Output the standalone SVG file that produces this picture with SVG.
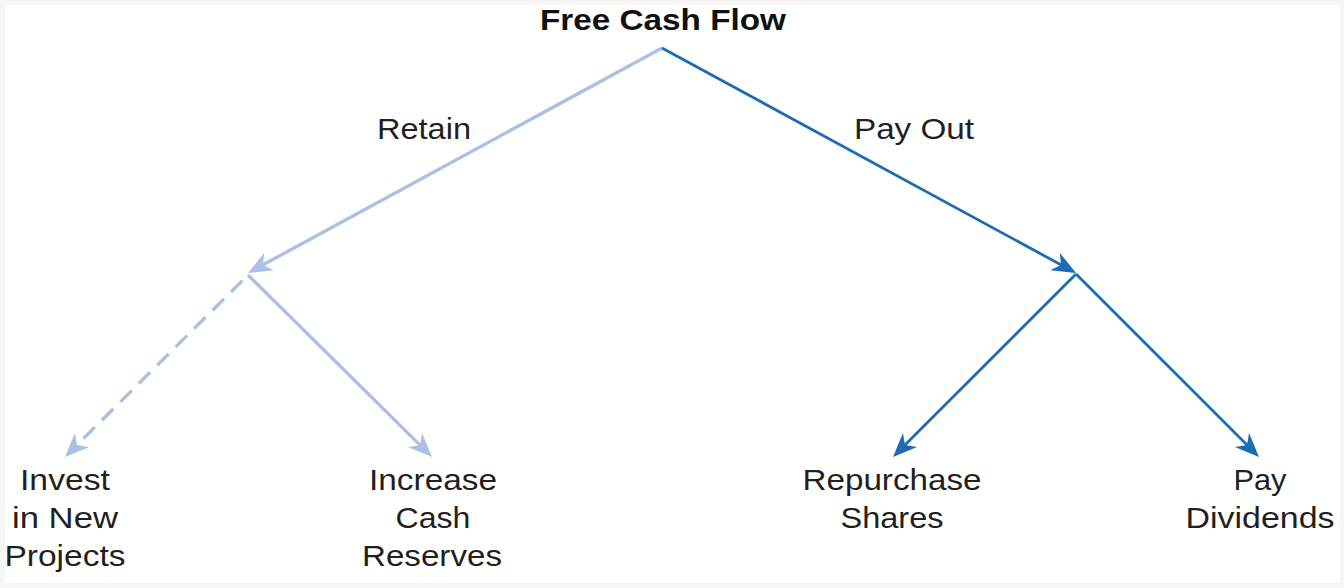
<svg xmlns="http://www.w3.org/2000/svg" width="1344" height="588" viewBox="0 0 1344 588">
<style>
.t{font-family:"Liberation Sans",Arial,sans-serif;font-size:30px;fill:#231f20;text-anchor:middle}
.b{font-weight:bold;font-size:30px;fill:#111}
.lt{stroke:#abc1e3;stroke-width:3.4;fill:none}
.dk{stroke:#1d6cb2;stroke-width:2.8;fill:none}
</style>
<defs>
<marker id="al" markerUnits="userSpaceOnUse" orient="auto" refX="0" refY="0" markerWidth="40" markerHeight="40" viewBox="-20 -20 40 40" overflow="visible"><path d="M13,0 L-11,-10 L-4,0 L-11,10 Z" fill="#abc1e3"/></marker>
<marker id="ad" markerUnits="userSpaceOnUse" orient="auto" refX="0" refY="0" markerWidth="40" markerHeight="40" viewBox="-20 -20 40 40" overflow="visible"><path d="M13,0 L-11,-10 L-4,0 L-11,10 Z" fill="#1d6cb2"/></marker>
</defs>
<rect width="1344" height="588" fill="#f8f6f4"/>
<rect x="5" y="5" width="1335" height="578" fill="#ffffff"/>
<g id="connectors">
<line class="lt" x1="662" y1="48" x2="259.4" y2="266.8" marker-end="url(#al)"/>
<line class="dk" x1="662" y1="48" x2="1064.6" y2="266.8" marker-end="url(#ad)"/>
<line class="lt" x1="248" y1="275" x2="74.2" y2="447.8" stroke-dasharray="16 10" stroke-dashoffset="-8" marker-end="url(#al)"/>
<line class="lt" x1="248" y1="275" x2="422.8" y2="447.9" marker-end="url(#al)"/>
<line class="dk" x1="1076" y1="274" x2="902.2" y2="447.8" marker-end="url(#ad)"/>
<line class="dk" x1="1076" y1="274" x2="1249.8" y2="447.8" marker-end="url(#ad)"/>
</g>
<g id="free-cash-flow"><text class="t b" x="663" y="30" textLength="246" lengthAdjust="spacingAndGlyphs">Free Cash Flow</text></g>
<g id="retain"><text class="t" x="424" y="139" textLength="94" lengthAdjust="spacingAndGlyphs">Retain</text></g>
<g id="pay-out"><text class="t" x="914" y="139" textLength="120" lengthAdjust="spacingAndGlyphs">Pay Out</text></g>
<g id="invest">
<text class="t" x="65" y="490" textLength="90" lengthAdjust="spacingAndGlyphs">Invest</text>
<text class="t" x="65" y="528" textLength="106" lengthAdjust="spacingAndGlyphs">in New</text>
<text class="t" x="65" y="566" textLength="121" lengthAdjust="spacingAndGlyphs">Projects</text>
</g>
<g id="increase">
<text class="t" x="433" y="490" textLength="128" lengthAdjust="spacingAndGlyphs">Increase</text>
<text class="t" x="433" y="528" textLength="75" lengthAdjust="spacingAndGlyphs">Cash</text>
<text class="t" x="432" y="566" textLength="140" lengthAdjust="spacingAndGlyphs">Reserves</text>
</g>
<g id="repurchase">
<text class="t" x="892" y="490" textLength="179" lengthAdjust="spacingAndGlyphs">Repurchase</text>
<text class="t" x="892" y="528" textLength="103" lengthAdjust="spacingAndGlyphs">Shares</text>
</g>
<g id="dividends">
<text class="t" x="1260" y="490" textLength="53" lengthAdjust="spacingAndGlyphs">Pay</text>
<text class="t" x="1260" y="528" textLength="149" lengthAdjust="spacingAndGlyphs">Dividends</text>
</g>
</svg>
